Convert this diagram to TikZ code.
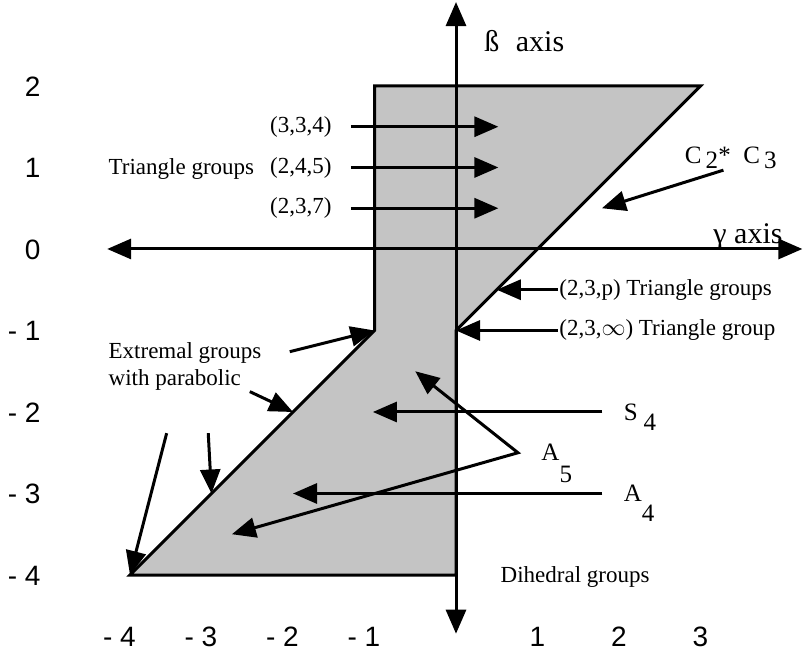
\documentclass[tikz,border=0pt]{standalone}
\usepackage{fontspec}
\setmainfont{Liberation Serif}
\newfontfamily\ticksf{Liberation Sans}
\usetikzlibrary{arrows.meta}
\begin{document}
\begin{tikzpicture}[x=40.75pt,y=40.75pt,line width=1.5pt,
	>={Triangle[length=12pt,width=10pt]},
	lbl/.style={inner sep=0pt,font=\fontsize{11.5}{13.5}\selectfont},
	grp/.style={inner sep=0pt,font=\fontsize{12.5}{14}\selectfont},
	ticklbl/.style={inner sep=0pt,font=\ticksf\fontsize{14}{16}\selectfont},
	axlbl/.style={inner sep=0pt,font=\fontsize{15}{17}\selectfont}]
	\useasboundingbox(-5.595,-4.982)rectangle(4.282,3.055);
	% shaded region
	\coordinate(tl)at(-1,2); \coordinate(tr)at(3,2); \coordinate(kr)at(0,-1);
	\coordinate(br)at(0,-4); \coordinate(bl)at(-4,-4); \coordinate(kl)at(-1,-1);
	\filldraw[fill=black!23](tl)--(tr)--(kr)--(br)--(bl)--(kl)--cycle;
	% axes
	\coordinate(yb)at(0,-4.72); \coordinate(yt)at(0,3.03);
	\coordinate(xl)at(-4.28,0); \coordinate(xr)at(4.25,0);
	\draw[<->](yb)--(yt);
	\draw[<->](xl)--(xr);
	\node[axlbl,anchor=base west](bax)at(0.33,2.42){ß\hspace{.55em}axis};
	\node[axlbl,anchor=base west](gax)at(3.14,0.07){γ axis};
	% scale
	\foreach \v/\t [count=\i] in {2/2,1/1,0/0,-1/- 1,-2/- 2,-3/- 3,-4/- 4}
		\node[ticklbl,anchor=base east](yl\i)at(-5.08,\v-0.123){\t};
	\foreach \v in {1,2,3}
		\node[ticklbl,anchor=base](xp\v)at(\v,-4.88){\v};
	\foreach \v in {1,...,4}
		\node[ticklbl,anchor=base east](xn\v)at(-\v+0.09,-4.88){- \v};
	% triangle groups
	\foreach \y/\t [count=\i] in {1.5/{(3,3,4)},1/{(2,4,5)},0.5/{(2,3,7)}}{
		\node[lbl,anchor=east](tg\i)at(-1.51,\y){\t};
		\coordinate(th\i)at(0.52,\y);
		\draw[->]([xshift=9pt]tg\i.east)--(th\i);
	}
	\node[lbl,anchor=base west](tri)at(-4.28,0.91){Triangle groups};
	% extremal groups
	\node[lbl,anchor=base west,align=left](ext)at(-4.28,-1.67){Extremal groups\\with parabolic};
	\coordinate(e1)at(-2.04,-1.26); \coordinate(e2)at(-2.53,-1.75);
	\coordinate(e3)at(-3.04,-2.26); \coordinate(e4)at(-3.55,-2.26);
	\coordinate(m2)at(-2,-2); \coordinate(m3)at(-3,-3);
	\draw[->](e1)--(kl);
	\draw[->](e2)--(m2);
	\draw[->](e3)--(m3);
	\draw[->](e4)--(bl);
	% right hand labels
	\node[lbl,anchor=west](tp)at(1.25,-0.5){(2,3,p) Triangle groups};
	\coordinate(dp)at(0.5,-0.5);
	\draw[->](tp.west)--(dp);
	\node[lbl,anchor=west](ti)at(1.25,-1){(2,3,$\infty$) Triangle group};
	\draw[->](ti.west)--(kr);
	\node[lbl,anchor=west,font=\fontsize{12.5}{14}\selectfont](c23)at(2.79,1.15)
		{C\,\smash{\raisebox{-2.5pt}{2}}*\ \ C\,\smash{\raisebox{-2.5pt}{3}}};
	\coordinate(cd)at(1.79,0.5);
	\draw[->]([xshift=20pt,yshift=-2.5pt]c23.south west)--(cd);
	% finite groups
	\node[grp,anchor=west](s4)at(2.04,-2){S\hspace{3pt}\smash{\raisebox{-5pt}{4}}};
	\coordinate(ds)at(-1.02,-2);
	\draw[->]([xshift=-10pt]s4.west)--(ds);
	\node[grp,anchor=west](a4)at(2.04,-3){A\smash{\raisebox{-10pt}{4}}};
	\coordinate(da)at(-2,-3);
	\draw[->]([xshift=-10pt]a4.west)--(da);
	\node[grp,anchor=west](a5)at(1.03,-2.5){A\smash{\raisebox{-11pt}{5}}};
	\coordinate(a5v)at([xshift=-11pt]a5.west);
	\coordinate(f1)at(-0.5,-1.5); \coordinate(f2)at(-2.75,-3.5);
	\draw[<->](f1)--(a5v)--(f2);
	\node[lbl,anchor=west](dih)at(0.53,-4.02){Dihedral groups};
\end{tikzpicture}
\end{document}
